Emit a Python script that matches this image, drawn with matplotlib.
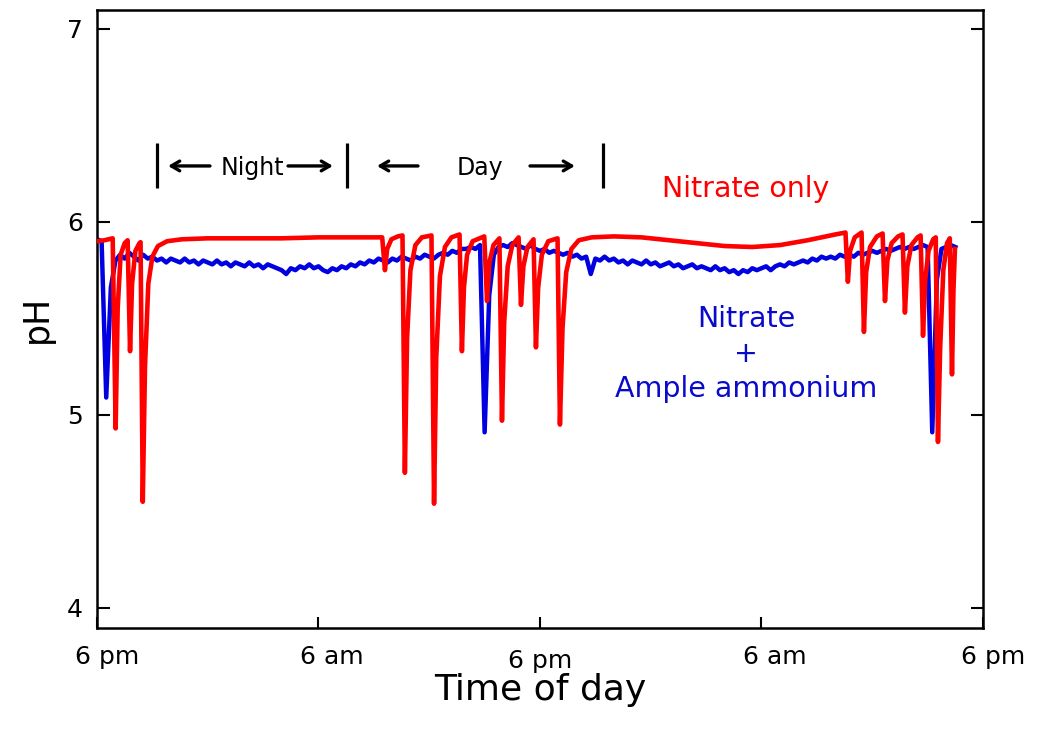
import numpy as np
import matplotlib
matplotlib.use("Agg")
import matplotlib.pyplot as plt
from matplotlib.transforms import ScaledTranslation

# ---------------- data ----------------
x_tick_hours = [0, 12, 24, 36, 48]
x_tick_labels = ["6 pm", "6 am", "6 pm", "6 am", "6 pm"]
y_ticks = [4, 5, 6, 7]

# Nitrate only (red) : hours since 6 pm, pH
red_hours = [0.00, 0.40, 0.85, 1.01, 1.12, 1.28, 1.50, 1.66, 1.79, 1.90, 2.08, 2.30,
             2.36, 2.48, 2.60, 2.78, 3.00, 3.30, 3.80, 4.60, 6.00, 8.00, 10.00, 12.00,
             14.00, 15.45, 15.60, 15.72, 15.95, 16.30, 16.55, 16.68, 16.80, 16.98, 17.25,
             17.60, 18.12, 18.26, 18.38, 18.58, 18.85, 19.20, 19.64, 19.77, 19.88, 20.05,
             20.35, 20.98, 21.13, 21.26, 21.48, 21.80, 21.94, 22.06, 22.25, 22.50, 22.84,
             22.97, 23.10, 23.32, 23.65, 23.78, 23.90, 24.10, 24.45, 24.95, 25.08, 25.22,
             25.42, 25.70, 26.10, 26.80, 28.00, 29.50, 31.00, 32.50, 34.00, 35.50, 37.00,
             38.50, 40.00, 40.55, 40.68, 40.80, 41.05, 41.42, 41.55, 41.67, 41.88, 42.25,
             42.56, 42.69, 42.82, 43.05, 43.40, 43.64, 43.77, 43.90, 44.12, 44.45, 44.62,
             44.75, 44.87, 45.05, 45.30, 45.44, 45.56, 45.68, 45.85, 46.05, 46.20, 46.32,
             46.40, 46.48]
red_ph = [5.900, 5.905, 5.915, 4.93, 5.55, 5.83, 5.89, 5.905, 5.33, 5.68, 5.85, 5.89,
          5.895, 4.55, 5.25, 5.68, 5.82, 5.875, 5.90, 5.91, 5.915, 5.915, 5.915, 5.92,
          5.92, 5.92, 5.75, 5.86, 5.91, 5.925, 5.93, 4.70, 5.40, 5.75, 5.88,
          5.92, 5.93, 4.54, 5.30, 5.72, 5.87, 5.92, 5.935, 5.33, 5.66, 5.83,
          5.90, 5.925, 5.59, 5.79, 5.88, 5.915, 4.97, 5.48, 5.77, 5.88, 5.92,
          5.57, 5.77, 5.87, 5.91, 5.35, 5.66, 5.83, 5.90, 5.915, 4.95, 5.45,
          5.74, 5.86, 5.905, 5.92, 5.925, 5.92, 5.905, 5.89, 5.875, 5.87, 5.88,
          5.905, 5.935, 5.945, 5.69, 5.85, 5.92, 5.945, 5.43, 5.74, 5.87, 5.925,
          5.94, 5.59, 5.80, 5.89, 5.925, 5.935, 5.53, 5.77, 5.88, 5.92, 5.93,
          5.41, 5.70, 5.85, 5.91, 5.92, 4.86, 5.35, 5.75, 5.89, 5.915, 5.21,
          5.65, 5.86]

# Nitrate + ample ammonium (blue): pH read every 0.25 h from 6 pm
blue_step = 0.25
blue_ph = [
    5.91, 5.90, 5.09, 5.66,   # h0
    5.80, 5.83, 5.81, 5.84,   # h1
    5.82, 5.80, 5.83, 5.81,   # h2
    5.82, 5.80, 5.81, 5.79,   # h3
    5.81, 5.80, 5.79, 5.81,   # h4
    5.79, 5.80, 5.78, 5.80,   # h5
    5.79, 5.78, 5.80, 5.78,   # h6
    5.79, 5.77, 5.79, 5.78,   # h7
    5.77, 5.79, 5.77, 5.78,   # h8
    5.76, 5.78, 5.77, 5.76,   # h9
    5.75, 5.73, 5.76, 5.75,   # h10
    5.77, 5.76, 5.78, 5.76,   # h11
    5.77, 5.75, 5.74, 5.76,   # h12
    5.75, 5.77, 5.76, 5.78,   # h13
    5.77, 5.79, 5.78, 5.80,   # h14
    5.79, 5.81, 5.80, 5.79,   # h15
    5.81, 5.80, 5.82, 5.81,   # h16
    5.80, 5.82, 5.81, 5.83,   # h17
    5.82, 5.81, 5.83, 5.84,   # h18
    5.83, 5.85, 5.84, 5.86,   # h19
    5.86, 5.87, 5.86, 5.88,   # h20
    4.91, 5.62, 5.83, 5.87,   # h21
    5.88, 5.87, 5.89, 5.88,   # h22
    5.87, 5.86, 5.88, 5.86,   # h23
    5.85, 5.86, 5.84, 5.85,   # h24
    5.84, 5.83, 5.84, 5.82,   # h25
    5.83, 5.81, 5.82, 5.73,   # h26
    5.81, 5.80, 5.82, 5.80,   # h27
    5.81, 5.79, 5.80, 5.78,   # h28
    5.80, 5.79, 5.78, 5.80,   # h29
    5.78, 5.79, 5.77, 5.78,   # h30
    5.79, 5.77, 5.78, 5.76,   # h31
    5.77, 5.78, 5.76, 5.77,   # h32
    5.76, 5.75, 5.77, 5.75,   # h33
    5.76, 5.74, 5.75, 5.73,   # h34
    5.75, 5.74, 5.76, 5.75,   # h35
    5.76, 5.77, 5.75, 5.77,   # h36
    5.78, 5.77, 5.79, 5.78,   # h37
    5.79, 5.80, 5.79, 5.81,   # h38
    5.80, 5.82, 5.81, 5.82,   # h39
    5.81, 5.83, 5.82, 5.83,   # h40
    5.82, 5.84, 5.83, 5.84,   # h41
    5.85, 5.84, 5.85, 5.86,   # h42
    5.85, 5.86, 5.87, 5.86,   # h43
    5.87, 5.86, 5.87, 5.88,   # h44
    5.87, 4.91, 5.70, 5.86,   # h45
    5.87, 5.88, 5.87,         # h46
]
blue_hours = np.arange(len(blue_ph)) * blue_step

RED = "#ff0000"
BLUE = "#0000e0"
BLUE_TXT = "#0a0acc"

# ---------------- figure ----------------
fig = plt.figure(figsize=(10.43, 7.31), dpi=100)
ax = fig.add_axes([97 / 1043, 1 - 628 / 731, 886 / 1043, 618 / 731])

ax.plot(blue_hours, blue_ph, color=BLUE, lw=3.2, solid_joinstyle="round", zorder=2)
ax.plot(red_hours, red_ph, color=RED, lw=3.3, solid_joinstyle="round", zorder=3)

ax.set_xlim(0, 48)
ax.set_ylim(3.896, 7.098)

ax.set_xticks(x_tick_hours)
ax.set_xticklabels(x_tick_labels)
ax.set_yticks(y_ticks)
ax.tick_params(axis="x", direction="in", length=8, width=1.5, labelsize=18, pad=12,
               top=False)
ax.tick_params(axis="y", direction="in", length=9, width=1.5, labelsize=18, pad=10,
               right=True)
for s in ax.spines.values():
    s.set_linewidth(1.8)

# shift tick labels like in the reference
offsets = [(10, 0), (13, 0), (0, -4), (13, 0), (10, 0)]
for lab, (dx, dy) in zip(ax.get_xticklabels(), offsets):
    lab.set_transform(lab.get_transform() + ScaledTranslation(dx / 100, dy / 100, fig.dpi_scale_trans))

ax.set_ylabel("pH", fontsize=25)
ax.yaxis.set_label_coords(-0.049, 0.5)
ax.set_xlabel("Time of day", fontsize=26)
ax.xaxis.set_label_coords(0.5, -0.073)

# Night / Day annotation
bar_lo, bar_hi = 6.176, 6.409
for xb in [3.23, 13.54, 27.41]:
    ax.plot([xb, xb], [bar_lo, bar_hi], color="black", lw=2.3, solid_capstyle="butt")

arrow_y = 6.29
aprops = dict(arrowstyle="->,head_length=0.6,head_width=0.35", lw=2.4, color="black",
              shrinkA=0, shrinkB=0)
for tail, head in [(6.12, 3.85), (10.35, 12.78), (17.39, 15.17), (23.46, 25.89)]:
    ax.annotate("", xy=(head, arrow_y), xytext=(tail, arrow_y), arrowprops=aprops)
ax.text(8.42, 6.244, "Night", fontsize=17, ha="center", va="baseline")
ax.text(20.75, 6.244, "Day", fontsize=17, ha="center", va="baseline")

# series labels
ax.text(35.16, 6.13, "Nitrate only", color=RED, fontsize=20.5, ha="center", va="baseline")
ax.text(35.16, 5.456, "Nitrate", color=BLUE_TXT, fontsize=20.5, ha="center", va="baseline")
ax.text(35.16, 5.275, "+", color=BLUE_TXT, fontsize=20.5, ha="center", va="baseline")
ax.text(35.16, 5.093, "Ample ammonium", color=BLUE_TXT, fontsize=20.5, ha="center", va="baseline")

fig.savefig("out.png", dpi=100)
